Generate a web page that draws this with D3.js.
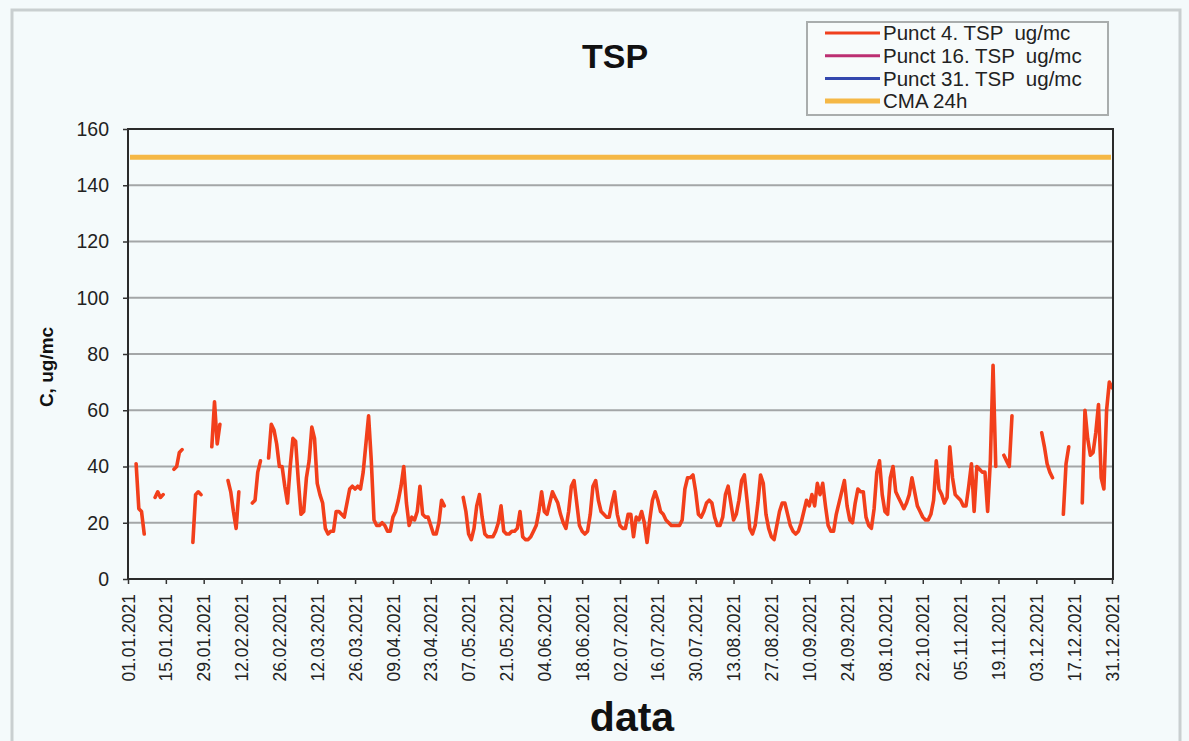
<!DOCTYPE html>
<html>
<head>
<meta charset="utf-8">
<script src="https://cdn.jsdelivr.net/npm/d3@7"></script>
<style>
  html, body { margin: 0; padding: 0; background: #f4fafb; }
  svg { display: block; font-family: Arial, "Liberation Sans", sans-serif; }
</style>
</head>
<body>
<svg id="chart" width="1189" height="741"></svg>
<script>
  // first day of the series, one value per day (null = no measurement)
  var startDate = new Date(2021, 0, 1);
  var endDate = new Date(2021, 11, 31);

  // Punct 4, TSP ug/mc - rows of 14 days
  var punct4 = [
    null, null, null, 41, 25, 24, 16, null, null, null, 29, 31, 29, 30,
    null, null, null, 39, 40, 45, 46, null, null, null, 13, 30, 31, 30,
    null, null, null, 47, 63, 48, 55, null, null, 35, 31, 24, 18, 31,
    null, null, null, null, 27, 28, 38, 42, null, null, 43, 55, 53, 48,
    40, 40, 33, 27, 40, 50, 49, 35, 23, 24, 36, 42, 54, 50,
    34, 30, 27, 18, 16, 17, 17, 24, 24, 23, 22, 27, 32, 33,
    32, 33, 32, 38, 48, 58, 42, 21, 19, 19, 20, 19, 17, 17,
    22, 24, 28, 33, 40, 27, 19, 22, 21, 24, 33, 23, 22, 22,
    19, 16, 16, 20, 28, 26, null, null, null, null, null, null, 29, 24,
    16, 14, 18, 26, 30, 22, 16, 15, 15, 15, 17, 20, 26, 17,
    16, 16, 17, 17, 18, 24, 15, 14, 14, 15, 17, 19, 24, 31,
    24, 23, 27, 31, 29, 27, 23, 20, 18, 24, 33, 35, 27, 19,
    17, 16, 17, 23, 33, 35, 28, 24, 23, 22, 22, 27, 31, 23,
    19, 18, 18, 23, 23, 15, 22, 21, 24, 20, 13, 21, 28, 31,
    28, 24, 23, 21, 20, 19, 19, 19, 19, 21, 32, 36, 36, 37,
    31, 23, 22, 24, 27, 28, 27, 22, 19, 19, 22, 30, 33, 27,
    21, 23, 28, 35, 37, 28, 18, 16, 19, 27, 37, 34, 23, 18,
    15, 14, 19, 24, 27, 27, 23, 19, 17, 16, 17, 20, 24, 28,
    26, 30, 26, 34, 30, 34, 26, 19, 17, 17, 23, 27, 31, 35,
    26, 21, 20, 27, 32, 31, 31, 22, 19, 18, 25, 38, 42, 30,
    24, 23, 36, 40, 31, 29, 27, 25, 27, 30, 36, 31, 26, 24,
    22, 21, 21, 23, 28, 42, 32, 30, 27, 29, 47, 36, 30, 29,
    28, 26, 26, 33, 41, 24, 40, 39, 38, 38, 24, 42, 76, 40,
    null, null, 44, 42, 40, 58, null, null, null, null, null, null, null, null,
    null, null, 52, 47, 41, 38, 36, null, null, null, 23, 41, 47, null,
    null, null, null, 27, 60, 50, 44, 45, 52, 62, 36, 32, 60, 70,
    68
  ];
  // the other two stations have no values drawn on this chart
  var punct16 = [];
  var punct31 = [];
  var cmaLimit = 150;

  var yTicks = [0, 20, 40, 60, 80, 100, 120, 140, 160];
  var gridValues = [20, 40, 60, 80, 100, 120, 140];
  var tickStepDays = 14;

  var legendItems = [
    { label: 'Punct 4. TSP  ug/mc', color: '#f0401e', width: 3 },
    { label: 'Punct 16. TSP  ug/mc', color: '#bc2f72', width: 3 },
    { label: 'Punct 31. TSP  ug/mc', color: '#3448ae', width: 3 },
    { label: 'CMA 24h', color: '#f5b846', width: 5 }
  ];

  var svg = d3.select('#chart');
  var plot = { left: 128, top: 129, right: 1113, bottom: 579 };

  // outer frame of the chart object
  svg.append('rect')
      .attr('x', 12).attr('y', 10)
      .attr('width', 1168).attr('height', 745)
      .attr('fill', '#f4fafb')
      .attr('stroke', '#c9cfd0')
      .attr('stroke-width', 3);

  var x = d3.scaleTime()
      .domain([startDate, endDate])
      .range([plot.left, plot.right - 1]);

  var y = d3.scaleLinear()
      .domain([0, 160])
      .range([plot.bottom, plot.top]);

  var series = punct4.map(function (v, i) {
    return { date: d3.timeDay.offset(startDate, i), value: v };
  });

  // gridlines
  svg.append('g')
      .attr('class', 'grid')
    .selectAll('line')
    .data(gridValues)
    .enter().append('line')
      .attr('x1', plot.left).attr('x2', plot.right)
      .attr('y1', function (d) { return y(d); })
      .attr('y2', function (d) { return y(d); })
      .attr('stroke', '#a3a6a7')
      .attr('stroke-width', 2);

  // CMA 24h limit
  svg.append('line')
      .attr('x1', plot.left + 2).attr('x2', plot.right - 2)
      .attr('y1', y(cmaLimit)).attr('y2', y(cmaLimit))
      .attr('stroke', '#f5b846')
      .attr('stroke-width', 5);

  // data line
  var line = d3.line()
      .defined(function (d) { return d.value != null; })
      .x(function (d) { return x(d.date); })
      .y(function (d) { return y(d.value); });

  svg.append('path')
      .datum(series)
      .attr('d', line)
      .attr('fill', 'none')
      .attr('stroke', '#f23f1b')
      .attr('stroke-width', 3.6)
      .attr('stroke-linejoin', 'round')
      .attr('stroke-linecap', 'round');

  // plot border
  svg.append('rect')
      .attr('x', plot.left).attr('y', plot.top)
      .attr('width', plot.right - plot.left)
      .attr('height', plot.bottom - plot.top)
      .attr('fill', 'none')
      .attr('stroke', '#2a2a2a')
      .attr('stroke-width', 2);

  // y axis
  var yAxis = d3.axisLeft(y)
      .tickValues(yTicks)
      .tickSize(5)
      .tickPadding(14);

  var yAxisGroup = svg.append('g')
      .attr('class', 'y axis')
      .attr('transform', 'translate(' + plot.left + ',0)')
      .call(yAxis);
  yAxisGroup.select('.domain').remove();
  yAxisGroup.selectAll('line').attr('stroke', '#333').attr('stroke-width', 1.5);
  yAxisGroup.selectAll('text')
      .attr('font-size', 19.5)
      .attr('fill', '#222');

  // x axis, a tick every two weeks
  var tickDates = d3.range(0, 365, tickStepDays).map(function (i) {
    return d3.timeDay.offset(startDate, i);
  });

  var xAxis = d3.axisBottom(x)
      .tickValues(tickDates)
      .tickSize(5)
      .tickFormat(d3.timeFormat('%d.%m.%Y'));

  var xAxisGroup = svg.append('g')
      .attr('class', 'x axis')
      .attr('transform', 'translate(0,' + plot.bottom + ')')
      .call(xAxis);
  xAxisGroup.select('.domain').remove();
  xAxisGroup.selectAll('line').attr('stroke', '#333').attr('stroke-width', 1.5);
  xAxisGroup.selectAll('text')
      .attr('transform', 'rotate(-90)')
      .attr('x', -15)
      .attr('y', 0)
      .attr('dy', '0.35em')
      .style('text-anchor', 'end')
      .attr('font-size', 17.5)
      .attr('fill', '#222');

  // titles
  svg.append('text')
      .attr('x', 615).attr('y', 68)
      .attr('text-anchor', 'middle')
      .attr('font-size', 34)
      .attr('font-weight', 'bold')
      .attr('fill', '#111')
      .text('TSP');

  svg.append('text')
      .attr('x', 632).attr('y', 731)
      .attr('text-anchor', 'middle')
      .attr('font-size', 41)
      .attr('font-weight', 'bold')
      .attr('fill', '#111')
      .text('data');

  svg.append('text')
      .attr('transform', 'translate(53,367) rotate(-90)')
      .attr('text-anchor', 'middle')
      .attr('font-size', 19)
      .attr('font-weight', 'bold')
      .attr('fill', '#111')
      .text('C, ug/mc');

  // legend
  var legend = svg.append('g')
      .attr('class', 'legend')
      .attr('transform', 'translate(807,22)');

  legend.append('rect')
      .attr('width', 301).attr('height', 93)
      .attr('fill', '#f7fbfb')
      .attr('stroke', '#a9adad')
      .attr('stroke-width', 2);

  var rows = legend.selectAll('.row')
      .data(legendItems)
      .enter().append('g')
      .attr('class', 'row')
      .attr('transform', function (d, i) { return 'translate(0,' + (11 + i * 22.7) + ')'; });

  rows.append('line')
      .attr('x1', 18).attr('x2', 73)
      .attr('stroke', function (d) { return d.color; })
      .attr('stroke-width', function (d) { return d.width; });

  rows.append('text')
      .attr('x', 76)
      .attr('dy', '0.36em')
      .attr('font-size', 20.5)
      .attr('fill', '#222')
      .style('white-space', 'pre')
      .text(function (d) { return d.label; });
</script>
</body>
</html>
